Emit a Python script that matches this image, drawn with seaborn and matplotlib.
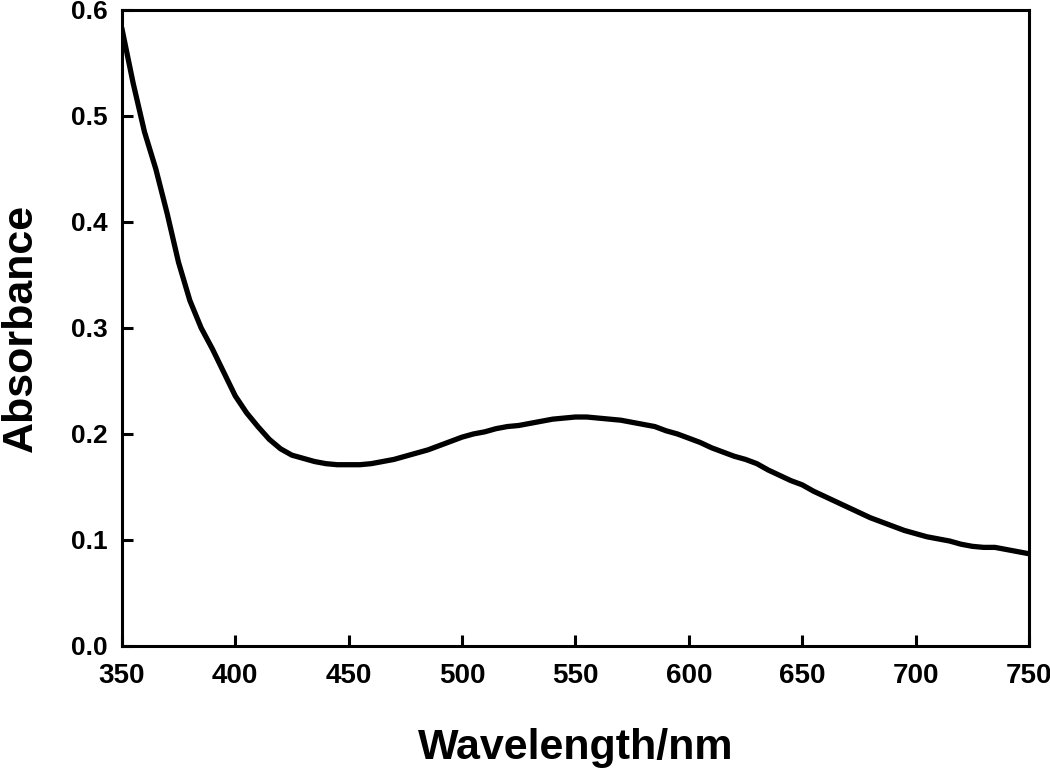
import numpy as np
import pandas as pd
import matplotlib
matplotlib.use("Agg")
import matplotlib.pyplot as plt
import seaborn as sns

# absorbance spectrum (every 5 nm)
wavelength = [350, 355, 360, 365, 370, 375, 380, 385, 390, 395,
              400, 405, 410, 415, 420, 425, 430, 435, 440, 445,
              450, 455, 460, 465, 470, 475, 480, 485, 490, 495,
              500, 505, 510, 515, 520, 525, 530, 535, 540, 545,
              550, 555, 560, 565, 570, 575, 580, 585, 590, 595,
              600, 605, 610, 615, 620, 625, 630, 635, 640, 645,
              650, 655, 660, 665, 670, 675, 680, 685, 690, 695,
              700, 705, 710, 715, 720, 725, 730, 735, 740, 745, 750]
absorbance = [0.583, 0.531, 0.485, 0.450, 0.408, 0.362, 0.326, 0.300, 0.280, 0.258,
              0.236, 0.220, 0.207, 0.195, 0.186, 0.180, 0.177, 0.174, 0.172, 0.171,
              0.171, 0.171, 0.172, 0.174, 0.176, 0.179, 0.182, 0.185, 0.189, 0.193,
              0.197, 0.200, 0.202, 0.205, 0.207, 0.208, 0.210, 0.212, 0.214, 0.215,
              0.216, 0.216, 0.215, 0.214, 0.213, 0.211, 0.209, 0.207, 0.203, 0.200,
              0.196, 0.192, 0.187, 0.183, 0.179, 0.176, 0.172, 0.166, 0.161, 0.156,
              0.152, 0.146, 0.141, 0.136, 0.131, 0.126, 0.121, 0.117, 0.113, 0.109,
              0.106, 0.103, 0.101, 0.099, 0.096, 0.094, 0.093, 0.093, 0.091, 0.089, 0.087]

x_ticks = [350, 400, 450, 500, 550, 600, 650, 700, 750]
y_ticks = [0.0, 0.1, 0.2, 0.3, 0.4, 0.5, 0.6]

df = pd.DataFrame({"wavelength": wavelength, "absorbance": absorbance})

sns.set_theme(style="ticks")
plt.rcParams['font.family'] = ['Liberation Sans', 'DejaVu Sans']
plt.rcParams['text.color'] = 'black'
plt.rcParams['axes.labelcolor'] = 'black'
plt.rcParams['xtick.color'] = 'black'
plt.rcParams['ytick.color'] = 'black'

fig = plt.figure(figsize=(10.5, 7.69), dpi=100)
ax = fig.add_axes([0.116, 0.160, 0.864, 0.827])

sns.lineplot(data=df, x="wavelength", y="absorbance", ax=ax,
             color="black", linewidth=3.8)

ax.set_xlim(350, 750)
ax.set_ylim(0, 0.6)
ax.set_xticks(x_ticks)
ax.set_yticks(y_ticks)
ax.set_xticklabels([str(t) for t in x_ticks], fontsize=20, fontweight='bold')
ax.set_yticklabels([f"{t:.1f}" for t in y_ticks], fontsize=19, fontweight='bold')

for s in ax.spines.values():
    s.set_visible(True)
    s.set_linewidth(2.2)
    s.set_color("black")
ax.tick_params(direction='in', length=8, width=2.2, colors='black', labelcolor='black')
ax.tick_params(axis='y', pad=10)
ax.tick_params(axis='x', pad=12)

ax.set_xlabel("Wavelength/nm", fontsize=31, fontweight='bold', labelpad=28, color='black')
ax.set_ylabel("Absorbance", fontsize=31, fontweight='bold', labelpad=22, color='black')

fig.savefig("out.png", dpi=100)
